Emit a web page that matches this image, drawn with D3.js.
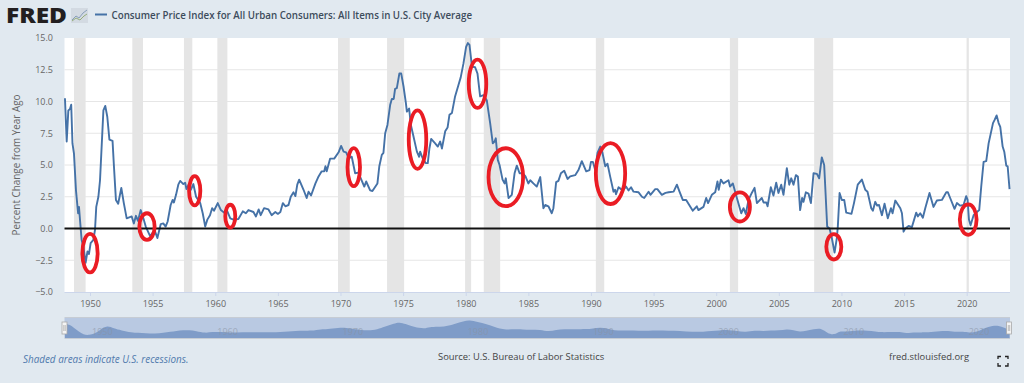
<!DOCTYPE html>
<html>
<head>
<meta charset="utf-8">
<title>CPI percent change from year ago</title>
<script src="https://cdn.jsdelivr.net/npm/d3@7"></script>
<style>
html, body { margin: 0; padding: 0; background: #e1e9f0; overflow: hidden; }
text { font-family: "Open Sans", sans-serif; }
</style>
</head>
<body>
<script>
// decimal years and year-over-year percent
var years = [1948.0,1948.14,1948.27,1948.4,1948.5,1948.6,1948.72,1948.88,1949.05,1949.12,1949.2,1949.33,1949.47,1949.65,1949.8,1949.92,1950.05,1950.27,1950.4,1950.5,1950.67,1950.8,1951.07,1951.22,1951.38,1951.55,1951.8,1951.9,1952.07,1952.25,1952.5,1952.7,1952.93,1953.33,1953.5,1953.67,1953.83,1954.05,1954.26,1954.45,1954.8,1955.0,1955.2,1955.38,1955.65,1955.85,1956.04,1956.2,1956.44,1956.6,1956.7,1956.87,1957.05,1957.2,1957.45,1957.6,1957.7,1957.9,1958.05,1958.25,1958.47,1958.8,1959.0,1959.2,1959.37,1959.58,1959.75,1959.9,1960.2,1960.45,1960.7,1960.9,1961.2,1961.45,1961.85,1962.2,1962.45,1962.65,1963.05,1963.25,1963.47,1963.63,1963.9,1964.25,1964.5,1964.8,1965.0,1965.2,1965.4,1965.6,1965.85,1966.03,1966.25,1966.4,1966.55,1966.7,1967.05,1967.3,1967.45,1967.65,1968.0,1968.25,1968.5,1968.7,1968.8,1968.9,1969.17,1969.5,1969.85,1970.05,1970.25,1970.45,1970.65,1970.9,1971.17,1971.43,1971.62,1971.9,1972.05,1972.37,1972.55,1972.95,1973.1,1973.3,1973.43,1973.57,1973.75,1973.97,1974.1,1974.25,1974.36,1974.5,1974.7,1974.85,1975.03,1975.22,1975.3,1975.48,1975.62,1975.83,1976.1,1976.28,1976.36,1976.55,1976.8,1976.97,1977.1,1977.24,1977.56,1977.77,1977.96,1978.1,1978.36,1978.55,1978.7,1978.9,1979.15,1979.42,1979.6,1979.82,1980.03,1980.17,1980.3,1980.5,1980.75,1980.94,1981.15,1981.42,1981.68,1981.95,1982.16,1982.3,1982.4,1982.56,1982.7,1982.94,1983.1,1983.2,1983.42,1983.68,1983.9,1984.08,1984.3,1984.56,1984.77,1985.0,1985.15,1985.4,1985.67,1985.95,1986.2,1986.35,1986.6,1986.87,1987.0,1987.22,1987.4,1987.6,1987.86,1988.13,1988.34,1988.74,1989.0,1989.27,1989.62,1989.88,1990.0,1990.15,1990.34,1990.52,1990.74,1990.92,1991.14,1991.32,1991.53,1991.8,1991.92,1992.0,1992.2,1992.4,1992.6,1992.8,1993.0,1993.2,1993.4,1993.8,1994.07,1994.25,1994.6,1994.75,1995.13,1995.3,1995.66,1995.95,1996.2,1996.6,1996.86,1997.07,1997.33,1997.6,1998.13,1998.45,1998.58,1998.98,1999.2,1999.35,1999.65,1999.92,2000.1,2000.2,2000.37,2000.58,2000.98,2001.1,2001.33,2001.65,2002.0,2002.18,2002.36,2002.58,2002.84,2003.06,2003.25,2003.64,2003.78,2004.0,2004.1,2004.36,2004.57,2004.79,2004.97,2005.19,2005.37,2005.64,2005.83,2005.99,2006.17,2006.36,2006.52,2006.7,2006.86,2006.97,2007.16,2007.37,2007.56,2007.77,2008.04,2008.22,2008.43,2008.62,2008.73,2008.86,2009.05,2009.23,2009.45,2009.63,2009.71,2009.85,2010.03,2010.22,2010.38,2010.8,2011.0,2011.3,2011.63,2011.9,2012.08,2012.38,2012.51,2012.7,2012.85,2013.0,2013.23,2013.44,2013.7,2013.95,2014.08,2014.3,2014.7,2014.83,2014.96,2015.09,2015.36,2015.62,2015.97,2016.1,2016.29,2016.5,2016.69,2017.03,2017.35,2017.62,2018.02,2018.37,2018.5,2018.68,2019.03,2019.22,2019.48,2019.75,2019.96,2020.07,2020.18,2020.31,2020.55,2020.82,2021.0,2021.16,2021.35,2021.56,2021.75,2022.1,2022.23,2022.39,2022.55,2022.68,2022.87,2023.0,2023.16,2023.27,2023.42];
var cpiValues = [10.25,6.85,9.3,9.4,9.75,6.7,5.9,3.0,1.2,1.7,0.7,-0.9,-1.4,-2.7,-1.8,-2.0,-1.15,-0.9,-0.1,1.7,2.5,3.8,9.3,9.65,8.8,7.0,6.9,5.1,2.25,1.95,3.2,2.0,0.8,0.95,0.4,1.0,0.6,1.45,0.8,0.15,-0.6,-0.35,-0.25,-0.75,0.35,0.4,0.15,0.55,1.85,2.25,2.05,2.65,3.45,3.75,3.5,3.6,3.1,3.5,3.05,3.5,2.5,2.0,1.2,0.15,0.7,1.05,1.6,1.4,2.0,1.45,1.25,1.5,0.8,0.7,0.75,1.35,1.2,1.45,1.3,0.95,1.5,1.05,1.6,1.5,1.05,1.3,1.15,1.3,2.0,1.75,1.85,2.5,2.85,2.55,3.45,3.85,3.05,2.4,2.9,2.6,3.55,4.1,4.5,4.5,4.9,4.5,5.5,5.5,6.0,6.5,6.05,6.0,5.55,5.65,4.35,4.4,3.95,3.3,3.7,3.0,2.95,3.55,4.9,5.8,5.95,7.5,8.15,9.75,10.2,10.2,11.0,11.05,12.2,12.2,11.2,9.9,9.2,9.45,8.15,7.25,6.05,5.65,6.05,5.55,5.15,5.15,6.3,7.05,6.7,6.45,6.85,6.3,7.65,7.95,8.95,9.1,10.4,11.3,11.9,13.0,14.3,14.6,14.45,12.75,12.7,12.2,10.4,10.5,10.1,8.3,6.7,6.85,7.1,5.4,5.0,3.85,3.55,3.95,2.4,2.65,4.35,4.95,4.35,4.35,4.1,3.55,3.8,3.55,3.3,4.05,1.6,1.85,1.75,1.2,1.6,3.65,3.75,4.35,4.55,3.9,4.1,4.2,4.6,5.3,4.5,4.6,5.25,5.25,4.6,5.95,6.45,5.95,4.9,5.1,4.1,2.9,3.05,2.7,3.25,3.1,3.05,3.3,3.0,3.25,2.9,2.85,2.5,2.4,2.9,2.65,3.1,3.1,2.65,2.8,2.85,2.9,3.45,2.9,2.25,2.25,1.4,1.75,1.45,1.7,2.4,2.0,2.65,2.85,3.7,3.05,3.85,3.55,3.8,3.3,3.55,2.4,1.2,1.6,1.15,2.25,2.8,3.2,2.0,2.4,2.05,2.05,1.75,3.25,2.6,3.6,2.8,3.45,2.65,4.75,3.45,3.95,3.45,4.2,4.1,1.45,2.4,2.1,2.85,2.75,2.0,4.35,4.3,3.95,5.6,5.0,2.8,0.15,0.0,-0.75,-1.9,-0.75,0.15,2.8,2.25,2.25,1.25,1.15,2.0,3.45,3.85,3.05,2.9,1.6,1.4,2.1,1.8,1.85,1.05,1.95,0.8,1.6,1.2,2.2,1.6,1.2,-0.25,0.0,0.2,0.1,1.25,0.95,1.2,0.85,1.6,2.8,1.7,2.2,2.25,2.85,2.85,2.4,1.55,2.0,1.8,1.85,2.55,2.25,0.7,0.25,1.05,1.3,1.45,3.3,5.25,5.3,6.7,8.3,8.55,8.9,8.3,8.0,6.45,6.05,4.95,4.9,3.1];

var recessionStart = [1948.72,1953.38,1957.5,1960.17,1969.8,1973.72,1979.95,1981.44,1990.39,2001.09,2007.82,2019.99];
var recessionEnd = [1949.65,1954.23,1958.17,1960.97,1970.74,1975.08,1980.43,1982.75,1991.06,2001.75,2009.34,2020.17];

// hand-drawn red circles: centre year/value and radius in year/value units
var circleYear = [1950.0,1954.55,1958.36,1961.2,1971.06,1976.15,1980.94,1983.2,1991.56,2001.89,2009.39,2020.12];
var circleValue = [-1.94,0.15,2.97,0.97,4.83,7.0,11.4,4.04,4.33,1.7,-1.44,0.7];
var circleRx = [0.61,0.61,0.45,0.4,0.5,0.7,0.7,1.38,1.17,0.8,0.6,0.67];
var circleRy = [1.52,1.05,1.15,0.9,1.5,2.3,1.9,2.28,2.4,1.15,1.0,1.2];

var yTicks = [-5,-2.5,0,2.5,5,7.5,10,12.5,15];
var xTicks = [1950,1955,1960,1965,1970,1975,1980,1985,1990,1995,2000,2005,2010,2015,2020];
var navTicks = [1950,1960,1970,1980,1990,2000,2010,2020];

var width = 1024, height = 383;
var left = 64.5, right = 1010, top_ = 38, bottom = 292;
var navTop = 318, navBottom = 338;

var svg = d3.select("body").append("svg")
    .attr("width", width)
    .attr("height", height)
    .style("display", "block");

var x = d3.scaleLinear().domain([1950, 2020]).range([90, 966.7]);
var y = d3.scaleLinear().domain([-5, 15]).range([bottom, top_]);
var navY = d3.scaleLinear().domain([-5, 16.5]).range([navBottom, navTop]);

svg.append("rect")
    .attr("x", left).attr("y", top_)
    .attr("width", right - left).attr("height", bottom - top_)
    .attr("fill", "#fff");

// grid
svg.append("g").selectAll("line")
    .data(yTicks.filter(function(d) { return d != -5 && d != 15; }))
    .enter().append("line")
    .attr("x1", left).attr("x2", right)
    .attr("y1", function(d) { return y(d); })
    .attr("y2", function(d) { return y(d); })
    .attr("stroke", "#e6e6e6")
    .attr("stroke-width", 1);

// recession bars
svg.append("g").selectAll("rect")
    .data(recessionStart)
    .enter().append("rect")
    .attr("x", function(d) { return x(d); })
    .attr("y", top_)
    .attr("width", function(d, i) { return x(recessionEnd[i]) - x(d); })
    .attr("height", bottom - top_)
    .attr("fill", "#e5e5e5");

// axes
var xAxis = d3.axisBottom(x).tickValues(xTicks).tickFormat(d3.format("d")).tickSize(4).tickPadding(5);
var gx = svg.append("g").attr("transform", "translate(0," + bottom + ")").call(xAxis);
gx.select(".domain").attr("d", "M" + left + ",0.5H" + right).attr("stroke", "#ccd6eb");
gx.selectAll("line").attr("stroke", "#ccd6eb");
gx.selectAll("text").attr("fill", "#666").style("font-size", "9px").style("font-family", '"Open Sans"');

var yAxis = d3.axisLeft(y).tickValues(yTicks).tickFormat(d3.format(".1f")).tickSize(0).tickPadding(11.5);
var gy = svg.append("g").attr("transform", "translate(" + left + ",0)").call(yAxis);
gy.select(".domain").remove();
gy.selectAll("text").attr("fill", "#666").style("font-size", "9px").style("font-family", '"Open Sans"');

svg.append("text")
    .attr("transform", "translate(20,165) rotate(-90)")
    .attr("text-anchor", "middle")
    .attr("fill", "#666")
    .style("font-size", "9.9px")
    .text("Percent Change from Year Ago");

// the series
var line = d3.line()
    .x(function(d) { return x(d); })
    .y(function(d, i) { return y(cpiValues[i]); });

svg.append("path")
    .attr("d", line(years))
    .attr("fill", "none")
    .attr("stroke", "#4572a7")
    .attr("stroke-width", 1.9)
    .attr("stroke-linejoin", "round");

// zero line
svg.append("line")
    .attr("x1", left).attr("x2", right)
    .attr("y1", y(0)).attr("y2", y(0))
    .attr("stroke", "#111")
    .attr("stroke-width", 1.8);

// red circles
svg.append("g").selectAll("ellipse")
    .data(circleYear)
    .enter().append("ellipse")
    .attr("cx", function(d) { return x(d); })
    .attr("cy", function(d, i) { return y(circleValue[i]); })
    .attr("rx", function(d, i) { return x(d + circleRx[i]) - x(d); })
    .attr("ry", function(d, i) { return y(0) - y(circleRy[i]); })
    .attr("fill", "none")
    .attr("stroke", "#ea1c24")
    .attr("stroke-width", 3.8);

// navigator
svg.append("rect")
    .attr("x", left).attr("y", navTop)
    .attr("width", right - left).attr("height", navBottom - navTop)
    .attr("fill", "#b9c9e2");

// the navigator draws a thinned, smoothed copy of the series
var navIndex = d3.range(0, years.length, 3).concat([years.length - 1]);
var navArea = d3.area()
    .x(function(i) { return x(years[i]); })
    .y0(navBottom)
    .y1(function(i) { return navY(cpiValues[i]); })
    .curve(d3.curveBasis);

svg.append("path")
    .attr("d", navArea(navIndex))
    .attr("fill", "#7f9cc8");

svg.append("g").selectAll("text")
    .data(navTicks)
    .enter().append("text")
    .attr("x", function(d) { return x(d) + 2; })
    .attr("y", 335)
    .attr("fill", "#8a93a3")
    .attr("opacity", 0.6)
    .style("font-size", "9px")
    .text(function(d) { return d; });

svg.append("path")
    .attr("d", "M" + left + "," + (navTop - 0.5) + "H" + right + "M" + left + "," + (navBottom + 0.5) + "H" + right)
    .attr("stroke", "#c6ccd4")
    .attr("fill", "none");

// navigator handles
[left, right - 1].forEach(function(hx) {
  svg.append("rect")
      .attr("x", hx - 2.5).attr("y", 322)
      .attr("width", 5).attr("height", 12)
      .attr("fill", "#f4f4f4")
      .attr("stroke", "#aaa")
      .attr("stroke-width", 0.8);
  svg.append("path")
      .attr("d", "M" + (hx - 0.7) + ",325V331M" + (hx + 0.7) + ",325V331")
      .attr("stroke", "#999")
      .attr("stroke-width", 0.6);
});

// header
svg.append("text")
    .attr("x", 6).attr("y", 23)
    .attr("fill", "#231f20")
    .style("font-size", "21px")
    .style("font-weight", 800)
    .attr("textLength", 61)
    .attr("lengthAdjust", "spacingAndGlyphs")
    .text("FRED");

var logo = svg.append("g").attr("transform", "translate(71,8)");
logo.append("rect").attr("width", 17).attr("height", 15).attr("fill", "#d3dae2");
logo.append("path").attr("d", "M1,12L5,8L8,10L12,5L16,2").attr("fill", "none").attr("stroke", "#7f97b5").attr("stroke-width", 0.9);
logo.append("path").attr("d", "M1,13L5,10L9,12L13,8L16,6").attr("fill", "none").attr("stroke", "#8fa86f").attr("stroke-width", 0.9);

svg.append("line")
    .attr("x1", 95).attr("x2", 107)
    .attr("y1", 14.5).attr("y2", 14.5)
    .attr("stroke", "#4572a7")
    .attr("stroke-width", 2);

svg.append("text")
    .attr("x", 111.5).attr("y", 18.6)
    .attr("fill", "#3d4c5c")
    .style("font-size", "9.75px")
    .style("font-weight", 600)
    .text("Consumer Price Index for All Urban Consumers: All Items in U.S. City Average");

// footer
svg.append("text")
    .attr("x", 23).attr("y", 363)
    .attr("fill", "#4f79ad")
    .style("font-size", "9.9px")
    .style("font-style", "italic")
    .text("Shaded areas indicate U.S. recessions.");

svg.append("text")
    .attr("x", 438).attr("y", 360)
    .attr("fill", "#444")
    .style("font-size", "9.4px")
    .text("Source: U.S. Bureau of Labor Statistics");

svg.append("text")
    .attr("x", 889).attr("y", 360)
    .attr("fill", "#444")
    .style("font-size", "9.4px")
    .text("fred.stlouisfed.org");

// fullscreen icon
svg.append("path")
    .attr("d", "M998,359V356.5H1001M1005,356.5H1008V359M1008,363V366H1005M1001,366H998V363")
    .attr("fill", "none")
    .attr("stroke", "#222")
    .attr("stroke-width", 1.3);
</script>
</body>
</html>
